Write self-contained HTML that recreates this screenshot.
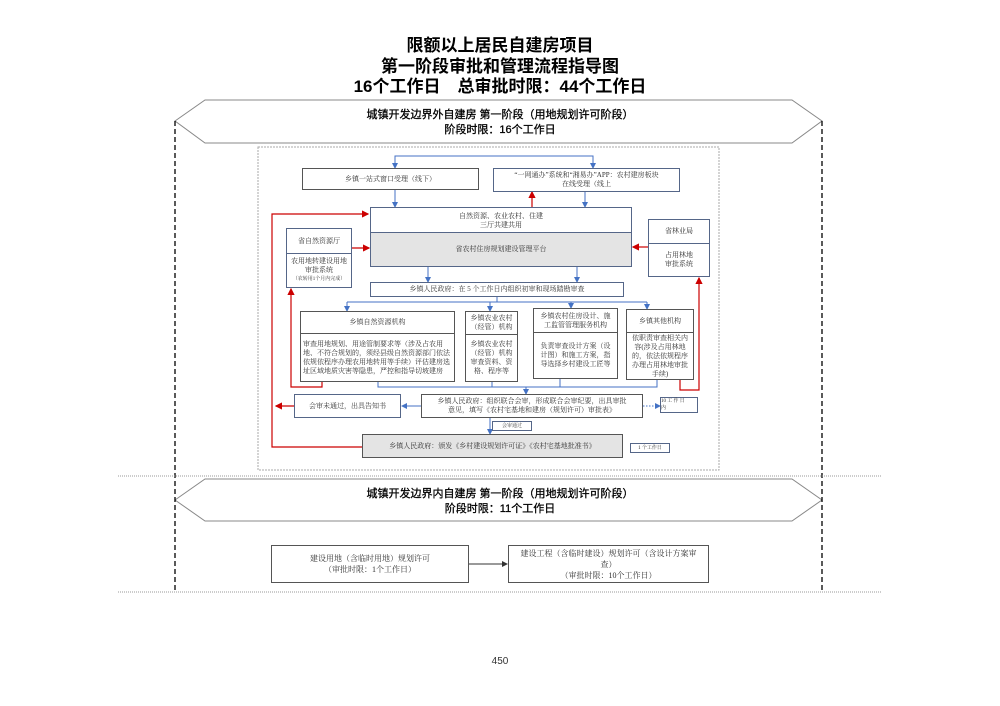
<!DOCTYPE html>
<html><head><meta charset="utf-8"><style>
body{margin:0;width:1000px;height:706px;background:#fff;position:relative;overflow:hidden;font-family:"Liberation Serif","Noto Serif CJK SC",serif;color:#333}
.a{position:absolute;box-sizing:border-box;text-align:center}
.t{font-family:"Liberation Sans","Noto Sans CJK SC",sans-serif;font-weight:bold;color:#000}
.b{border:1.5px solid #555;background:#fff;font-size:7px;line-height:9px;display:flex;align-items:center;justify-content:center}
.bl{border-color:#556688}
.g{background:#e4e4e4}
.s{font-size:6.5px;line-height:9px}
</style></head><body>
<div class="a t" style="left:300px;top:36px;width:400px;font-size:17px;line-height:20.5px">限额以上居民自建房项目<br>第一阶段审批和管理流程指导图<br>16个工作日　总审批时限：44个工作日</div>

<svg class="a" style="left:0;top:0" width="1000" height="706">
<defs>
<marker id="ab" markerWidth="6" markerHeight="6" refX="5" refY="3" orient="auto"><path d="M0,0L6,3L0,6z" fill="#4472c4"/></marker>
<marker id="ar" markerWidth="6" markerHeight="6" refX="5" refY="3" orient="auto"><path d="M0,0L6,3L0,6z" fill="#c00"/></marker>
<marker id="ak" markerWidth="6" markerHeight="6" refX="5" refY="3" orient="auto"><path d="M0,0L6,3L0,6z" fill="#333"/></marker>
</defs>
<polygon points="175,121 205,100 792,100 822,121 792,143 205,143" fill="#fff" stroke="#888" stroke-width="1"/>
<polygon points="175,500 205,479 792,479 822,500 792,521 205,521" fill="#fff" stroke="#888" stroke-width="1"/>
<line x1="175" y1="121" x2="175" y2="593" stroke="#000" stroke-width="1.3" stroke-dasharray="5,3"/>
<line x1="822" y1="121" x2="822" y2="593" stroke="#000" stroke-width="1.3" stroke-dasharray="5,3"/>
<line x1="118" y1="476" x2="882" y2="476" stroke="#999" stroke-width="1" stroke-dasharray="1,1"/>
<line x1="118" y1="592" x2="882" y2="592" stroke="#999" stroke-width="1" stroke-dasharray="1,1"/>
<rect x="258" y="147" width="461" height="323" fill="none" stroke="#aaa" stroke-width="1" stroke-dasharray="2,1"/>
<g stroke="#4472c4" stroke-width="1" fill="none">
<path d="M395,168V156H593V168" /><line x1="395" y1="159" x2="395" y2="168" marker-end="url(#ab)"/><line x1="593" y1="159" x2="593" y2="168" marker-end="url(#ab)"/>
<line x1="395" y1="190" x2="395" y2="207" marker-end="url(#ab)"/>
<line x1="585" y1="192" x2="585" y2="207" marker-end="url(#ab)"/>
<line x1="428" y1="267" x2="428" y2="282" marker-end="url(#ab)"/>
<line x1="577" y1="267" x2="577" y2="282" marker-end="url(#ab)"/>
<path d="M497,297V302M347,302H647"/>
<line x1="347" y1="302" x2="347" y2="311" marker-end="url(#ab)"/>
<line x1="490" y1="302" x2="490" y2="311" marker-end="url(#ab)"/>
<line x1="571" y1="302" x2="571" y2="308" marker-end="url(#ab)"/>
<line x1="647" y1="302" x2="647" y2="309" marker-end="url(#ab)"/>
<path d="M378,382V387H657V380M492,382V387M560,379V387"/>
<line x1="526" y1="387" x2="526" y2="394" marker-end="url(#ab)"/>
<line x1="421" y1="406" x2="402" y2="406" marker-end="url(#ab)"/>
<line x1="643" y1="406" x2="660" y2="406" stroke-dasharray="1.5,1.5" marker-end="url(#ab)"/>
<line x1="490" y1="418" x2="490" y2="434" marker-end="url(#ab)"/>
</g>
<g stroke="#c00" stroke-width="1.2" fill="none">
<line x1="532" y1="207" x2="532" y2="192" marker-end="url(#ar)"/>
<path d="M362,447H272V214H368" marker-end="url(#ar)"/>
<line x1="352" y1="248" x2="369" y2="248" marker-end="url(#ar)"/>
<line x1="648" y1="247" x2="633" y2="247" marker-end="url(#ar)"/>
<path d="M322,382V387H291V289" marker-end="url(#ar)"/>
<path d="M680,380V390H699V278" marker-end="url(#ar)"/>
<line x1="294" y1="406" x2="276" y2="406" marker-end="url(#ar)"/>
</g>
<line x1="469" y1="564" x2="507" y2="564" stroke="#333" stroke-width="1" marker-end="url(#ak)"/>
</svg>

<div class="a t" style="left:250px;top:108px;width:500px;font-size:11px;line-height:15px;font-weight:normal;-webkit-text-stroke:0.3px #000">城镇开发边界外自建房 第一阶段（用地规划许可阶段）<br>阶段时限：16个工作日</div>
<div class="a t" style="left:250px;top:487px;width:500px;font-size:11px;line-height:15px;font-weight:normal;-webkit-text-stroke:0.3px #000">城镇开发边界内自建房 第一阶段（用地规划许可阶段）<br>阶段时限：11个工作日</div>

<div class="a b" style="left:302px;top:168px;width:177px;height:22px">乡镇一站式窗口受理（线下）</div>
<div class="a b bl" style="left:493px;top:168px;width:187px;height:24px">“一网通办”系统和“湘易办”APP：农村建房板块<br>在线受理（线上</div>
<div class="a b bl" style="left:370px;top:207px;width:262px;height:26px;border-bottom:none">自然资源、农业农村、住建<br>三厅共建共用</div>
<div class="a b bl g" style="left:370px;top:232px;width:262px;height:35px">省农村住房规划建设管理平台</div>
<div class="a b bl" style="left:286px;top:228px;width:66px;height:26px">省自然资源厅</div>
<div class="a b bl" style="left:286px;top:253px;width:66px;height:35px;flex-direction:column">农用地转建设用地<br>审批系统<span style="font-size:5px">（农转用1个月内完成）</span></div>
<div class="a b bl" style="left:648px;top:219px;width:62px;height:25px">省林业局</div>
<div class="a b bl" style="left:648px;top:243px;width:62px;height:34px">占用林地<br>审批系统</div>
<div class="a b bl" style="left:370px;top:282px;width:254px;height:15px">乡镇人民政府：在 5 个工作日内组织初审和现场踏勘审查</div>

<div class="a b" style="left:300px;top:311px;width:155px;height:23px">乡镇自然资源机构</div>
<div class="a b" style="left:300px;top:333px;width:155px;height:49px;text-align:left;justify-content:flex-start;padding:0 2px">审查用地规划、用途管制要求等（涉及占农用地、不符合规划的，须经县级自然资源部门依法依规依程序办理农用地转用等手续）评估建房选址区域地质灾害等隐患，严控和指导切坡建房</div>
<div class="a b" style="left:465px;top:311px;width:53px;height:24px">乡镇农业农村<br>（经管）机构</div>
<div class="a b" style="left:465px;top:334px;width:53px;height:48px">乡镇农业农村<br>（经管）机构<br>审查资料、资<br>格、程序等</div>
<div class="a b" style="left:533px;top:308px;width:85px;height:25px">乡镇农村住房设计、施<br>工监管管理服务机构</div>
<div class="a b" style="left:533px;top:332px;width:85px;height:47px">负责审查设计方案（设<br>计图）和施工方案，指<br>导选择乡村建设工匠等</div>
<div class="a b" style="left:626px;top:309px;width:68px;height:24px">乡镇其他机构</div>
<div class="a b" style="left:626px;top:332px;width:68px;height:48px">依职责审查相关内<br>容(涉及占用林地<br>的，依法依规程序<br>办理占用林地审批<br>手续)</div>

<div class="a b" style="left:421px;top:394px;width:222px;height:24px">乡镇人民政府：组织联合会审，形成联合会审纪要，出具审批<br>意见，填写《农村宅基地和建房（规划许可）审批表》</div>
<div class="a b bl" style="left:294px;top:394px;width:107px;height:24px">会审未通过，出具告知书</div>
<div class="a b bl s" style="left:660px;top:397px;width:38px;height:16px;border-width:1px;font-size:5px;line-height:7px;text-align:left;justify-content:flex-start">10 工 作 日<br>内</div>
<div class="a b bl" style="left:492px;top:421px;width:40px;height:10px;border-width:1px;font-size:5px">会审通过</div>
<div class="a b g" style="left:362px;top:434px;width:261px;height:24px">乡镇人民政府：颁发《乡村建设规划许可证》《农村宅基地批准书》</div>
<div class="a b bl" style="left:630px;top:443px;width:40px;height:10px;border-width:1px;font-size:5px">1 个工作日</div>

<div class="a b" style="left:271px;top:545px;width:198px;height:38px;border-width:1px;font-size:8px;line-height:11px">建设用地（含临时用地）规划许可<br>（审批时限：1个工作日）</div>
<div class="a b" style="left:508px;top:545px;width:201px;height:38px;border-width:1px;font-size:8px;line-height:11px">建设工程（含临时建设）规划许可（含设计方案审<br>查）<br>（审批时限：10个工作日）</div>
<div class="a" style="left:470px;top:656px;width:60px;font-family:'Liberation Sans',sans-serif;font-size:10px">450</div>
</body></html>
